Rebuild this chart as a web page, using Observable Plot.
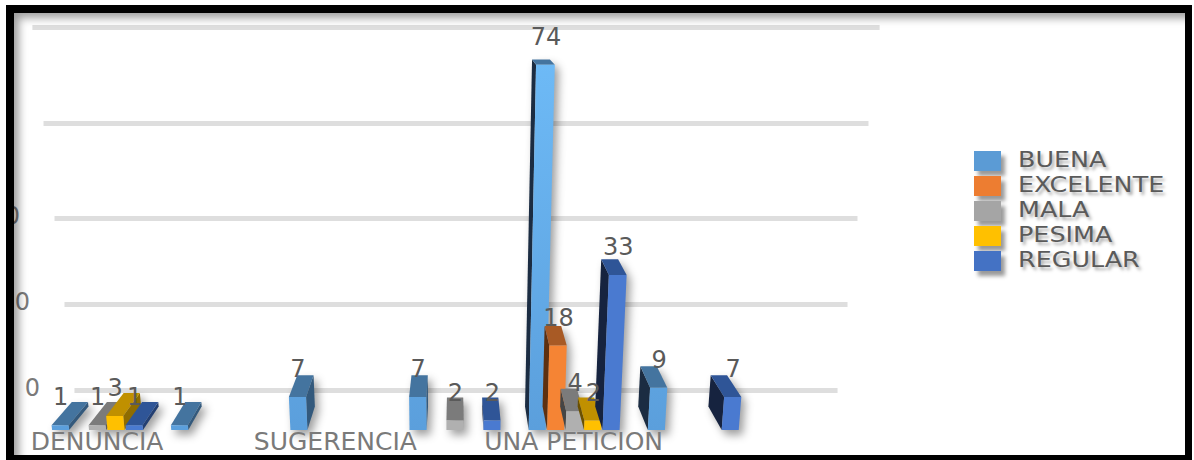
<!DOCTYPE html>
<html lang="es">
<head>
<meta charset="utf-8">
<title>Tipo de solicitud por calificación</title>
<script src="https://cdn.jsdelivr.net/npm/d3@7"></script>
<script src="https://cdn.jsdelivr.net/npm/@observablehq/plot@0.6"></script>
<style>
  html, body { margin: 0; background: #fff; overflow: hidden; }
  #chart { position: relative; width: 1194px; height: 460px; overflow: hidden; }
  #chart svg { display: block; position: absolute; left: 0; top: 0; }
  #frame {
    position: absolute; left: 6px; top: 5px; width: 1171px; height: 442px;
    border-style: solid; border-color: #000; border-width: 8px 7px 0 8px;
    border-bottom: 5px solid #000;
    box-shadow: 0 0 0 12px #fff, inset 7px 7px 9px -2px rgba(0,0,0,.38);
    pointer-events: none;
  }
  #legend {
    position: absolute; left: 974px; top: 148px;
    font: 21px "DejaVu Sans", sans-serif; color: #5a5a5a;
    text-shadow: 2px 3px 3px rgba(0,0,0,.35);
  }
  .entry { display: flex; align-items: center; height: 25px; white-space: nowrap; }
  .swatch { width: 27px; height: 20px; margin-right: 17px; box-shadow: 4px 5px 4px rgba(0,0,0,.4); }
  .name { display: inline-block; transform-origin: left center; transform: translateY(-1px) scaleX(1.21); }
</style>
</head>
<body>
<div id="chart"></div>
<script>
// Seven equal category bands hold the clusters; the seventh stays empty.
const clusterCount = 7;
const seriesNames = ["BUENA", "EXCELENTE", "MALA", "PESIMA", "REGULAR"];
const buena     = [1, 1, 7, 7, 74, 9];
const excelente = [null, null, null, null, 18, null];
const mala      = [1, null, null, 2, 4, null];
const pesima    = [3, null, null, null, 2, null];
const regular   = [1, null, null, 2, 33, 7];
const seriesValues = [buena, excelente, mala, pesima, regular];

const categoryNames = ["DENUNCIA", "SUGERENCIA", "UNA PETICION"];
const categoryTicks = [0.5, 2.5, 4.5];
const gridValues = [0, 20, 40, 60, 80];
const axisValues = [0, 20, 40];
const axisLabels = ["0", "0", "0"];

const swatchColors = ["#5b9bd5", "#ed7d31", "#a5a5a5", "#ffc000", "#4472c4"];
const frontColors = ["url(#buenaFront)", "#f58434", "#b0b0b0", "#ffc000", "#4a7ad0"];
const topColors   = ["#44749f", "#a85a25", "#7b7b7b", "#c09000", "#2f5597"];
const innerColors = ["#1b2c42", "#5e3010", "#454545", "#6b5000", "#16233f"];
const outerColors = ["#33597c", "#7e431b", "#5c5c5c", "#8f6c00", "#233f72"];

// Layout of the bars inside a band, in band units.
const bandGap = 0.11, barPitch = 0.155, barWidth = 0.143;

const bars = seriesValues.flatMap((values, s) =>
  values.flatMap((value, c) => value == null ? [] : [{
    series: s,
    value,
    start: c + bandGap + s * barPitch
  }])
);

// One-point perspective applied to positions coming out of the scales:
// the value plane sits on the back wall, bars stand in front of it.
const centerX = 456, vanishY = -40, wallScale = 1.093, depthStep = 0.05, baseY = 430, splay = 0.1 / 360;
const wallDepth = 1.7;
function project(px, py, depth) {
  const frontY = vanishY + (py - vanishY) * wallScale;
  const spread = 1 + splay * (baseY - frontY);
  const frontX = centerX + (px - centerX) * spread;
  const m = 1 - depthStep * depth;
  return [centerX + (frontX - centerX) * m, vanishY + (frontY - vanishY) * m];
}

// Draws each bar as three faces from its scaled rectangle.
function renderBars(index, scales, values) {
  const g = d3.create("svg:g").style("filter", "drop-shadow(4px 5px 4px rgba(0,0,0,.38))");
  // The light-blue front faces brighten towards the top of the value range.
  const gradient = g.append("linearGradient")
    .attr("id", "buenaFront").attr("gradientUnits", "userSpaceOnUse")
    .attr("x1", 0).attr("x2", 0)
    .attr("y1", project(0, scales.y(80), 0)[1]).attr("y2", project(0, scales.y(0), 0)[1]);
  gradient.append("stop").attr("offset", 0).attr("stop-color", "#6fbcf8");
  gradient.append("stop").attr("offset", 1).attr("stop-color", "#5b9fdc");
  for (const i of index) {
    const d = bars[i], x1 = values.x1[i], x2 = values.x2[i];
    const lo = values.y1[i], hi = values.y2[i];
    const inner = (x1 + x2) / 2 > centerX;
    const edge = inner ? x1 : x2;
    const face = (pts, fill) => g.append("path")
      .attr("d", "M" + pts.map(p => p.join(",")).join("L") + "Z").attr("fill", fill);
    face([project(edge, hi, 0), project(edge, hi, 1), project(edge, lo, 1), project(edge, lo, 0)],
      inner ? innerColors[d.series] : outerColors[d.series]);
    face([project(x1, hi, 0), project(x2, hi, 0), project(x2, hi, 1), project(x1, hi, 1)],
      topColors[d.series]);
    face([project(x1, lo, 0), project(x2, lo, 0), project(x2, hi, 0), project(x1, hi, 0)],
      frontColors[d.series]);
  }
  return g.node();
}

// Moves a rule or text mark onto the back wall before the stock renderer runs.
function onWall(index, scales, values, dims, ctx, next) {
  const X = Float64Array.from(values.x ?? values.x1), Y = Float64Array.from(values.y);
  const X2 = values.x2 ? Float64Array.from(values.x2) : null, PY = Float64Array.from(Y);
  for (const i of index) {
    const [a, b] = project(X[i], PY[i], wallDepth);
    X[i] = a; Y[i] = b;
    if (X2) X2[i] = project(X2[i], PY[i], wallDepth)[0];
  }
  return next(index, scales, X2 ? {...values, x1: X, x2: X2, y: Y} : {...values, x: X, y: Y}, dims, ctx);
}

// Places a value label above the front top edge of its bar.
function onBar(index, scales, values, dims, ctx, next) {
  const X = Float64Array.from(values.x), Y = Float64Array.from(values.y);
  for (const i of index) {
    const [a, b] = project(X[i], Y[i], 0);
    X[i] = a; Y[i] = b - 28;
  }
  return next(index, scales, {...values, x: X, y: Y}, dims, ctx);
}

const chart = Plot.plot({
  width: 1194,
  height: 460,
  marginBottom: 30,
  style: {background: "#fff", fontFamily: "'DejaVu Sans', sans-serif"},
  x: {domain: [0, clusterCount], range: [39, 873], axis: null},
  y: {type: "linear", domain: gridValues, range: [390, 304, 218, 123, 27], axis: null},
  marks: [
    Plot.ruleY(gridValues, {
      y: d => d, x1: () => 0, x2: () => clusterCount,
      stroke: "#dedede", strokeWidth: 5, render: onWall,
      style: {filter: "drop-shadow(5px 6px 3px rgba(0,0,0,.16))"}
    }),
    Plot.text(axisValues, {
      x: () => 0, y: d => d, text: (d, i) => axisLabels[i], textAnchor: "end", dx: -35, dy: -2,
      fontSize: 24, fill: "#7a7a7a", render: onWall,
      style: {filter: "drop-shadow(2px 3px 2px rgba(0,0,0,.3))"}
    }),
    Plot.rect(bars, {
      x1: d => d.start, x2: d => d.start + barWidth,
      y1: () => 0, y2: d => d.value, render: renderBars
    }),
    Plot.text(bars, {
      x: d => d.start + barWidth / 2, y: d => d.value, text: d => String(d.value),
      fontSize: 24, fill: "#5a5a5a", render: onBar,
      style: {filter: "drop-shadow(2px 3px 2px rgba(0,0,0,.3))"}
    }),
    Plot.axisX({
      ticks: categoryTicks,
      tickFormat: t => categoryNames[categoryTicks.indexOf(t)],
      tickSize: 0, tickPadding: 2, label: null, dx: -2,
      fontSize: 25, fill: "#7a7a7a",
      style: {filter: "drop-shadow(2px 3px 2px rgba(0,0,0,.3))"}
    })
  ]
});

const host = document.getElementById("chart");
host.append(chart);

const legend = document.createElement("div");
legend.id = "legend";
seriesNames.forEach((name, i) => {
  const row = document.createElement("div");
  row.className = "entry";
  const swatch = document.createElement("span");
  swatch.className = "swatch";
  swatch.style.background = swatchColors[i];
  const label = document.createElement("span");
  label.className = "name";
  label.textContent = name;
  row.append(swatch, label);
  legend.append(row);
});
host.append(legend);

const frame = document.createElement("div");
frame.id = "frame";
host.append(frame);
</script>
</body>
</html>
